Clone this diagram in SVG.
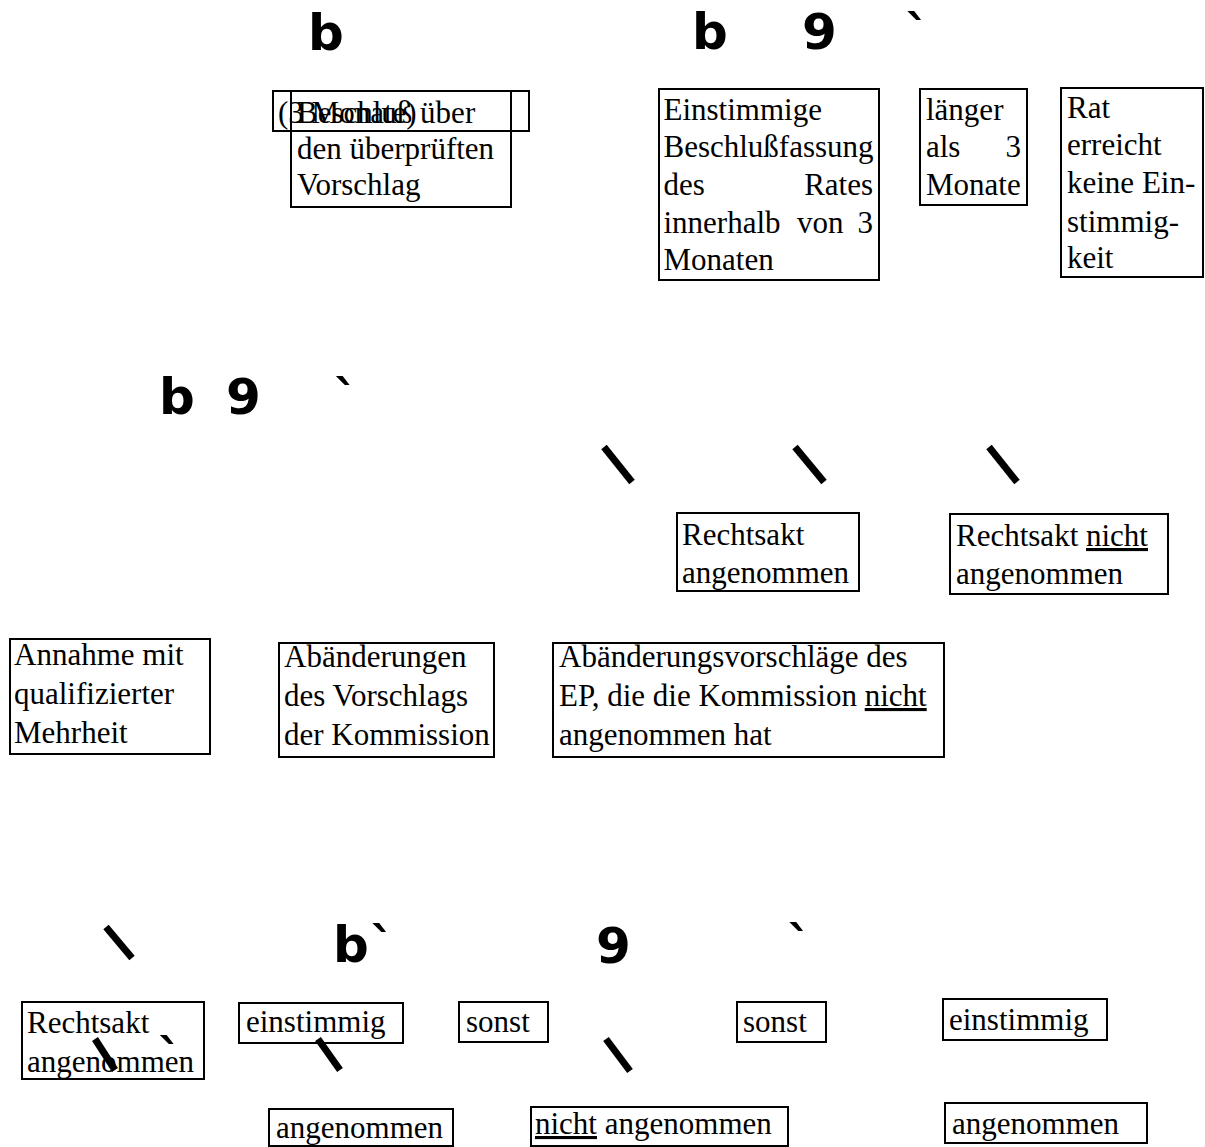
<svg xmlns="http://www.w3.org/2000/svg" width="1205" height="1147" viewBox="0 0 1205 1147">
<style>
rect.n{fill:none;stroke:#000;stroke-width:2}
text.t{font-family:"Liberation Serif","Times New Roman",serif;font-size:31px;fill:#000}
text.g{font-family:"DejaVu Sans",sans-serif;font-weight:bold;font-size:50px;fill:#000}
text.m{text-anchor:end}
tspan.u{text-decoration:underline}
line.s{stroke:#000;stroke-width:7;stroke-linecap:butt}
</style>
<rect width="1205" height="1147" fill="#fff"/>
<g id="glyphs">
<text class="g" x="308" y="50">b</text>
<text class="g" x="692" y="49">b</text>
<text class="g" x="802" y="49">9</text>
<text class="g" x="917.5" y="51" text-anchor="middle">`</text>
<text class="g" x="159" y="414">b</text>
<text class="g" x="226" y="414">9</text>
<text class="g" x="346" y="416" text-anchor="middle">`</text>
<text class="g" x="333" y="962">b</text>
<text class="g" x="382.5" y="963" text-anchor="middle">`</text>
<text class="g" x="596" y="963">9</text>
<text class="g" x="799.5" y="962" text-anchor="middle">`</text>
<text class="g" x="170" y="1075" text-anchor="middle">`</text>
</g>
<g id="node-beschluss">
<rect class="n" x="273" y="91" width="256" height="40"/>
<rect class="n" x="291" y="91" width="220" height="116"/>
<text class="t" x="278" y="123">(3 Monate)</text>
<text class="t" x="297" y="123">Beschluß über</text>
<text class="t" x="297" y="159">den überprüften</text>
<text class="t" x="297" y="195">Vorschlag</text>
</g>
<g id="node-einstimmig-rat">
<rect class="n" x="659" y="89" width="220" height="191"/>
<text class="t" x="663.5" y="120">Einstimmige</text>
<text class="t" x="663.5" y="157">Beschlußfassung</text>
<text class="t" x="663.5" y="195">des</text>
<text class="t m" x="873" y="195">Rates</text>
<text class="t" x="663.5" y="233">innerhalb</text>
<text class="t" x="797" y="233">von</text>
<text class="t m" x="873" y="233">3</text>
<text class="t" x="663.5" y="270">Monaten</text>
</g>
<g id="node-laenger">
<rect class="n" x="920" y="89" width="107" height="116"/>
<text class="t" x="926" y="120">länger</text>
<text class="t" x="926" y="157">als</text>
<text class="t m" x="1021" y="157">3</text>
<text class="t" x="926" y="195">Monate</text>
</g>
<g id="node-keine-einstimmigkeit">
<rect class="n" x="1061" y="88" width="142" height="189"/>
<text class="t" x="1067" y="118">Rat</text>
<text class="t" x="1067" y="155">erreicht</text>
<text class="t" x="1067" y="193">keine Ein-</text>
<text class="t" x="1067" y="232">stimmig-</text>
<text class="t" x="1067" y="268">keit</text>
</g>
<g id="node-rechtsakt-angenommen-1">
<rect class="n" x="677" y="513" width="182" height="78"/>
<text class="t" x="682" y="545">Rechtsakt</text>
<text class="t" x="682" y="583">angenommen</text>
</g>
<g id="node-rechtsakt-nicht-angenommen">
<rect class="n" x="950" y="514" width="218" height="80"/>
<text class="t" x="956" y="546">Rechtsakt <tspan class="u">nicht</tspan></text>
<text class="t" x="956" y="584">angenommen</text>
</g>
<g id="node-qualifizierte-mehrheit">
<rect class="n" x="10" y="639" width="200" height="115"/>
<text class="t" x="14" y="665">Annahme mit</text>
<text class="t" x="14" y="704">qualifizierter</text>
<text class="t" x="14" y="743">Mehrheit</text>
</g>
<g id="node-abaenderungen-kommission">
<rect class="n" x="279" y="643" width="215" height="114"/>
<text class="t" x="284" y="667">Abänderungen</text>
<text class="t" x="284" y="706">des Vorschlags</text>
<text class="t" x="284" y="745">der Kommission</text>
</g>
<g id="node-abaenderungen-ep">
<rect class="n" x="553" y="643" width="391" height="114"/>
<text class="t" x="559" y="667">Abänderungsvorschläge des</text>
<text class="t" x="559" y="706">EP, die die Kommission <tspan class="u">nicht</tspan></text>
<text class="t" x="559" y="745">angenommen hat</text>
</g>
<g id="node-rechtsakt-angenommen-2">
<rect class="n" x="22" y="1002" width="182" height="77"/>
<text class="t" x="27" y="1033">Rechtsakt</text>
<text class="t" x="27" y="1072">angenommen</text>
</g>
<g id="node-einstimmig-1">
<rect class="n" x="239" y="1003" width="164" height="40"/>
<text class="t" x="246" y="1032">einstimmig</text>
</g>
<g id="node-sonst-1">
<rect class="n" x="459" y="1002" width="89" height="40"/>
<text class="t" x="466" y="1032">sonst</text>
</g>
<g id="node-sonst-2">
<rect class="n" x="737" y="1002" width="89" height="40"/>
<text class="t" x="743" y="1032">sonst</text>
</g>
<g id="node-einstimmig-2">
<rect class="n" x="943" y="999" width="164" height="41"/>
<text class="t" x="949" y="1030">einstimmig</text>
</g>
<g id="node-angenommen-1">
<rect class="n" x="269" y="1109" width="184" height="37"/>
<text class="t" x="276" y="1138">angenommen</text>
</g>
<g id="node-nicht-angenommen">
<rect class="n" x="531" y="1107" width="257" height="39"/>
<text class="t" x="535" y="1134"><tspan class="u">nicht</tspan> angenommen</text>
</g>
<g id="node-angenommen-2">
<rect class="n" x="945" y="1103" width="202" height="40"/>
<text class="t" x="952" y="1134">angenommen</text>
</g>
<g id="connectors">
<line class="s" x1="604" y1="447" x2="632" y2="482"/>
<line class="s" x1="795" y1="447" x2="824" y2="482"/>
<line class="s" x1="989" y1="447" x2="1017" y2="482"/>
<line class="s" x1="106" y1="927" x2="132" y2="958"/>
<line class="s" x1="95" y1="1039" x2="115" y2="1070"/>
<line class="s" x1="318" y1="1039" x2="340" y2="1070"/>
<line class="s" x1="606" y1="1039" x2="630" y2="1071"/>
</g>
</svg>
